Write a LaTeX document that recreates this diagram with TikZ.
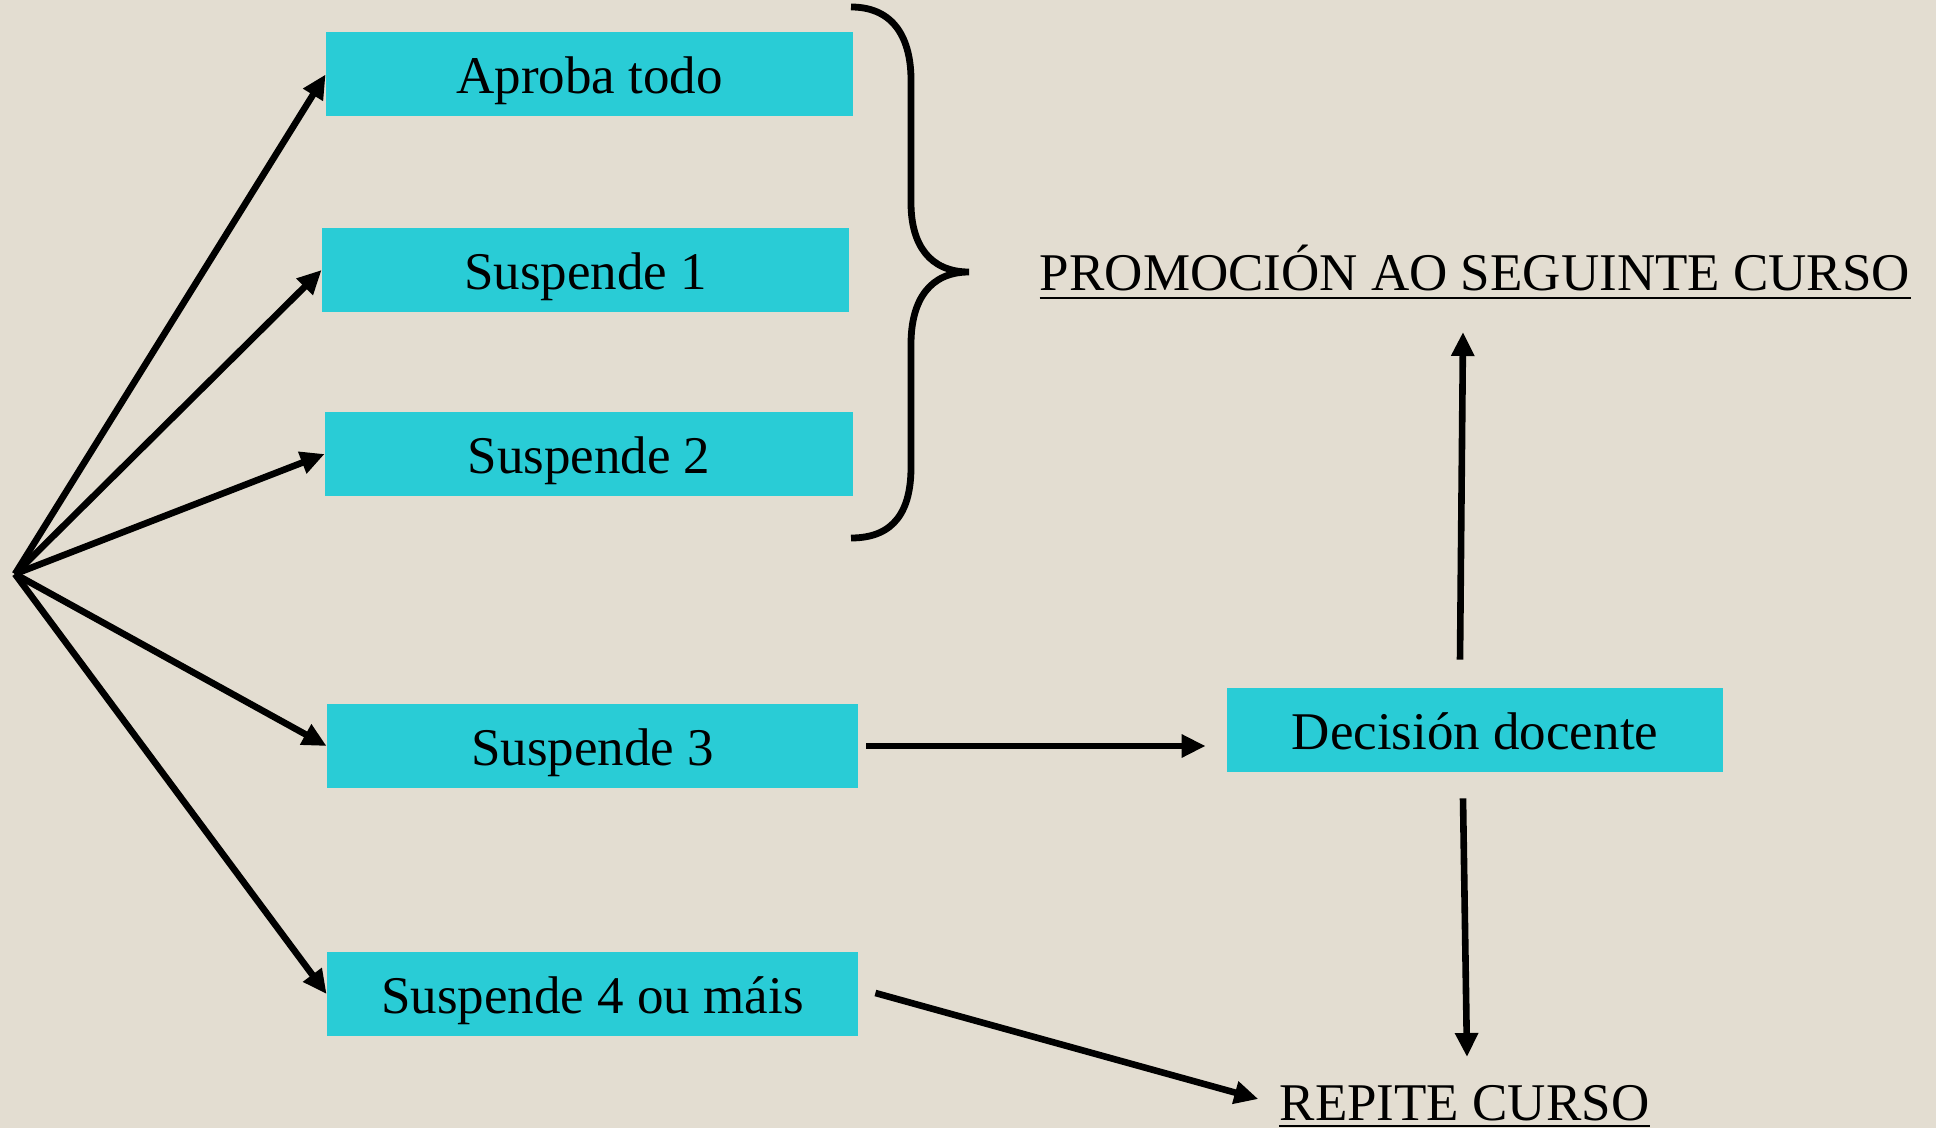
\documentclass[tikz,border=0pt]{standalone}
\usepackage{fontspec}
\setmainfont{Liberation Serif}
\usetikzlibrary{arrows.meta,calc}
\definecolor{bgcol}{HTML}{E3DDD1}
\definecolor{boxcol}{HTML}{29CCD6}
\tikzset{
  px/.style={x=0.5pt,y=-0.5pt},
  box/.style={fill=boxcol,draw=none,inner sep=0pt,text height=24pt,text depth=4.5pt,minimum height=42pt,font=\fontsize{26.5}{30}\selectfont},
  lbl/.style={inner sep=0pt,anchor=base,font=\fontsize{26.5}{30}\selectfont},
  arr/.style={line width=3.3pt,-{Triangle[length=12pt,width=11pt]}},
  brace/.style={line width=3.4pt}
}
\begin{document}
\begin{tikzpicture}[px]
\useasboundingbox (0,0) rectangle (1936,1128);
\fill[bgcol] (0,0) rectangle (1936,1128);
% boxes
\node[box,minimum width=263.5pt] (ap) at (589.5,74.5) {Aproba todo};
\node[box,minimum width=263.5pt] (s1) at (585.5,270) {Suspende 1};
\node[box,minimum width=264pt] (s2) at (589,454) {Suspende 2};
\node[box,minimum width=265.5pt] (s3) at (592.5,746) {Suspende 3};
\node[box,minimum width=265.5pt] (s4) at (592.5,994) {Suspende 4 ou máis};
\node[box,minimum width=248pt] (dd) at (1475,730) {Decisión docente};
% labels
\node[lbl] (promo) at (1475,291) {PROMOCIÓN AO SEGUINTE CURSO};
\node[lbl] (rep) at (1464.5,1120) {REPITE CURSO};
\draw[line width=1.3pt] ($(promo.base west)+(0,7)$) -- ($(promo.base east)+(0,7)$);
\draw[line width=1.3pt] ($(rep.base west)+(0,6)$) -- ($(rep.base east)+(0,6)$);
% origin
\coordinate (o) at (15,574);
\draw[arr] (o) -- (ap.west);
\draw[arr] (o) -- (s1.west);
\draw[arr] (o) -- (s2.west);
\draw[arr] (o) -- (s3.west);
\draw[arr] (o) -- (s4.west);
% right side arrows
\draw[arr] ($(s3.east)+(8,0)$) -- ($(dd.west |- s3.east)+(-21,0)$);
\draw[arr] ($(dd.north)+(-15,-28)$) -- ($(promo.base)+(-12,41)$);
\draw[arr] ($(dd.south)+(-12,26)$) -- ($(rep.base)+(2.5,-63)$);
\draw[arr] ($(s4.east)+(17,-1)$) -- ($(rep.base west)+(-21,-21)$);
% brace
\draw[brace] (851,7) .. controls (895,7) and (911,40) .. (911,80) -- (911,203)
  .. controls (911,245) and (930,272) .. (969,272)
  .. controls (930,272) and (911,300) .. (911,344) -- (911,467)
  .. controls (911,510) and (895,538) .. (851,538);
\end{tikzpicture}
\end{document}
